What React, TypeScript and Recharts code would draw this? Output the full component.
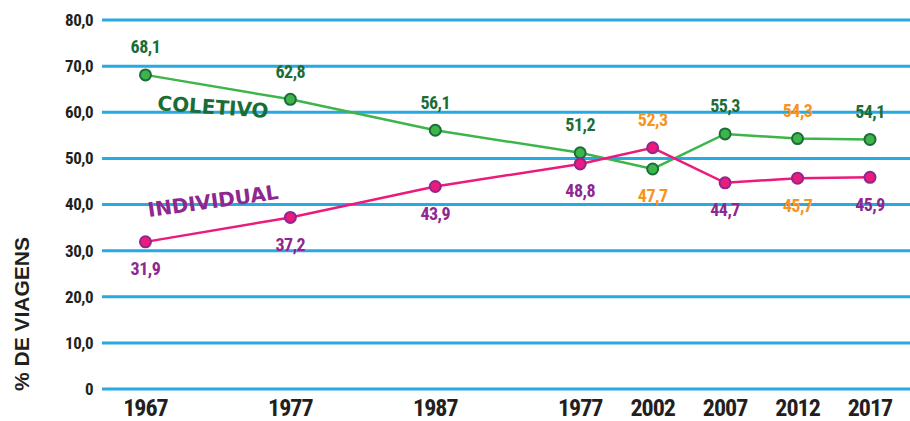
import { LineChart, Line, XAxis, YAxis, CartesianGrid, LabelList } from "recharts";

const YEARS = [1967, 1977, 1987, 1997, 2002, 2007, 2012, 2017];
// the source prints "1977" under the 1997 point
const YEAR_LABELS = ["1967", "1977", "1987", "1977", "2002", "2007", "2012", "2017"];
const COLETIVO = [68.1, 62.8, 56.1, 51.2, 47.7, 55.3, 54.3, 54.1];
const INDIVIDUAL = [31.9, 37.2, 43.9, 48.8, 52.3, 44.7, 45.7, 45.9];
const Y_TICKS = [0, 10, 20, 30, 40, 50, 60, 70, 80];

const data = YEARS.map((year, i) => ({ year, coletivo: COLETIVO[i], individual: INDIVIDUAL[i] }));

const NARROW = "'Liberation Sans Narrow', 'Roboto Condensed', 'DejaVu Sans Condensed', sans-serif";
const INK = "#231f20";
const GREEN = "#3db54a";
const DARK_GREEN = "#1b6d38";
const PINK = "#ec1a7b";
const PURPLE = "#8e278f";
const ORANGE = "#f7941d";
const BLUE = "#27aae1";

const fmt = (v: number) => (v === 0 ? "0" : v.toFixed(1).replace(".", ","));
const isOrange = (i: number) => YEARS[i] === 2002 || YEARS[i] === 2012;

function makeLabel(base: string, above: (i: number) => boolean) {
  return (props: any) => {
    const { x = 0, y = 0, value, index = 0 } = props;
    const up = above(index);
    return (
      <text
        x={x}
        y={up ? y - 28 : y + 27}
        dy="0.35em"
        textAnchor="middle"
        fill={isOrange(index) ? ORANGE : base}
        fontFamily={NARROW}
        fontWeight="bold"
        fontSize={18}
        letterSpacing={-0.5}
      >
        {fmt(value)}
      </text>
    );
  };
}

function YTick({ y = 0, payload }: { y?: number; payload?: { value: number } }) {
  return (
    <text x={93} y={y} dy="0.35em" textAnchor="end" fill={INK} fontFamily={NARROW} fontWeight="bold" fontSize={17} letterSpacing={-0.5}>
      {fmt(payload?.value ?? 0)}
    </text>
  );
}

function XTick({ x = 0, index = 0 }: { x?: number; index?: number }) {
  return (
    <text x={x} y={416} textAnchor="middle" fill={INK} fontFamily={NARROW} fontWeight="bold" fontSize={24} letterSpacing={-1}>
      {YEAR_LABELS[index]}
    </text>
  );
}

export default function App() {
  return (
    <div style={{ position: "absolute", left: 0, top: 0, width: 910, height: 421, background: "#fff" }}>
      <LineChart width={910} height={421} data={data} margin={{ top: 20, right: 0, bottom: 0, left: 0 }}>
        <CartesianGrid vertical={false} stroke={BLUE} strokeWidth={3} />
        <XAxis
          dataKey="year"
          type="number"
          domain={[1964, 2019.76]}
          allowDataOverflow
          ticks={YEARS}
          tick={<XTick />}
          axisLine={false}
          tickLine={false}
          height={32}
        />
        <YAxis
          type="number"
          domain={[0, 80]}
          ticks={Y_TICKS}
          tick={<YTick />}
          axisLine={false}
          tickLine={false}
          width={102}
        />
        <Line
          dataKey="coletivo"
          stroke={GREEN}
          strokeWidth={2.5}
          dot={{ r: 5.5, fill: GREEN, stroke: DARK_GREEN, strokeWidth: 2 }}
          isAnimationActive={false}
        >
          <LabelList dataKey="coletivo" content={makeLabel(DARK_GREEN, (i) => YEARS[i] !== 2002)} />
        </Line>
        <Line
          dataKey="individual"
          stroke={PINK}
          strokeWidth={2.5}
          dot={{ r: 5.5, fill: PINK, stroke: PURPLE, strokeWidth: 2 }}
          isAnimationActive={false}
        >
          <LabelList dataKey="individual" content={makeLabel(PURPLE, (i) => YEARS[i] === 2002)} />
        </Line>
      </LineChart>
      <svg width={910} height={421} style={{ position: "absolute", left: 0, top: 0, pointerEvents: "none" }}>
        <text
          transform="translate(22,314) rotate(-90)"
          dy="0.35em"
          textAnchor="middle"
          fill={INK}
          fontFamily="'Liberation Sans', Arial, sans-serif"
          fontWeight="bold"
          fontSize={21}
        >
          % DE VIAGENS
        </text>
        <text
          transform="translate(213,107) rotate(4)"
          dy="0.35em"
          textAnchor="middle"
          fill={DARK_GREEN}
          fontFamily="'DejaVu Sans', sans-serif"
          fontWeight="bold"
          fontSize={20}
        >
          COLETIVO
        </text>
        <text
          transform="translate(213,201) rotate(-8)"
          dy="0.35em"
          textAnchor="middle"
          fill={PURPLE}
          fontFamily="'DejaVu Sans', sans-serif"
          fontWeight="bold"
          fontSize={20}
        >
          INDIVIDUAL
        </text>
      </svg>
    </div>
  );
}
